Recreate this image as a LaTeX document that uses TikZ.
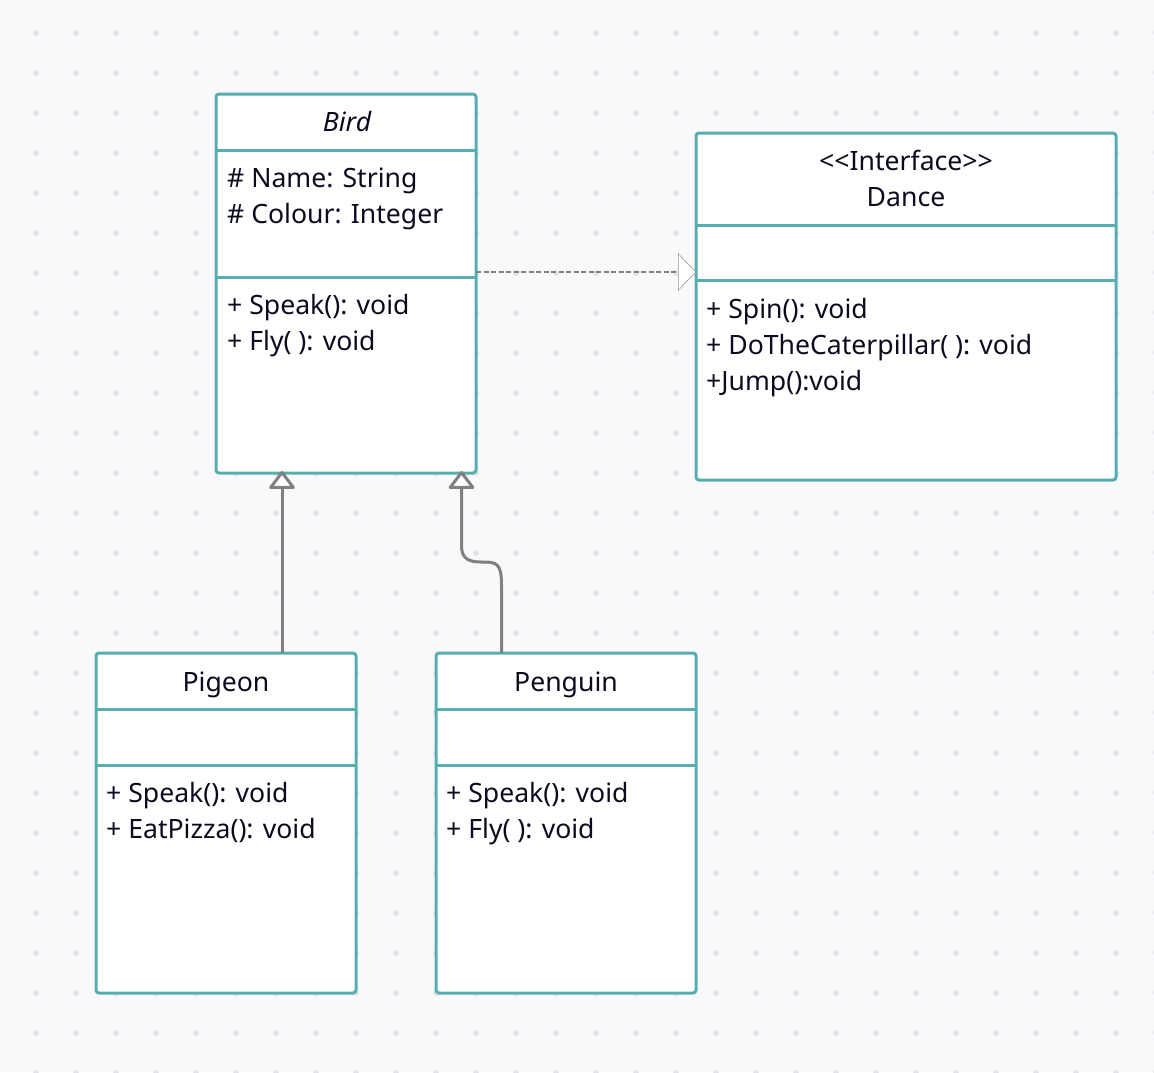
\documentclass[tikz,border=0pt]{standalone}
\usepackage{fontspec}
\setmainfont{Noto Sans}
\usetikzlibrary{arrows.meta,calc}
\definecolor{teal1}{HTML}{56AEAE}
\definecolor{bgc}{HTML}{F9F9FB}
\definecolor{dotc}{HTML}{E4E4E8}
\definecolor{txt}{HTML}{0B0B20}
\definecolor{conn}{HTML}{808080}
\tikzset{
  classbox/.style={draw=teal1, line width=3pt, rounded corners=3pt, fill=white, inner sep=0pt, outer sep=0pt, anchor=north west},
  divider/.style={draw=teal1, line width=3pt},
  lbl/.style={font=\fontsize{26.6}{30}\selectfont, text=txt, inner sep=0pt, anchor=base west},
  ttl/.style={font=\fontsize{26.6}{30}\selectfont, text=txt, inner sep=0pt, anchor=base},
  inherit/.style={draw=conn, line width=3pt, -{Triangle[fill=white, length=19pt, width=28pt, line join=round]}},
  realize/.style={draw=conn, line width=1.2pt, dash pattern=on 5pt off 2.5pt, -{Triangle[fill=white, length=18pt, width=38pt, line width=0.6pt, color=conn!80]}}
}
\begin{document}
\begin{tikzpicture}[x=1pt,y=-1pt]
\useasboundingbox (0,0) rectangle (1154,1072);
\fill[bgc] (0,0) rectangle (1154,1072);
\foreach \i in {0,...,28} {\foreach \j in {0,...,26} {\fill[dotc] (36+40*\i,33+40*\j) circle (3pt);}}
% boxes
\node[classbox, minimum width=260pt, minimum height=379pt] (bird) at (216,94) {};
\node[classbox, minimum width=420pt, minimum height=347pt] (dance) at (696,133) {};
\node[classbox, minimum width=260pt, minimum height=340pt] (pigeon) at (96,653) {};
\node[classbox, minimum width=260pt, minimum height=340pt] (penguin) at (436,653) {};
% dividers
\draw[divider] (bird.north west |- 0,150) -- (bird.north east |- 0,150);
\draw[divider] (bird.north west |- 0,277) -- (bird.north east |- 0,277);
\draw[divider] (dance.north west |- 0,225) -- (dance.north east |- 0,225);
\draw[divider] (dance.north west |- 0,280) -- (dance.north east |- 0,280);
\draw[divider] (pigeon.north west |- 0,709) -- (pigeon.north east |- 0,709);
\draw[divider] (pigeon.north west |- 0,765) -- (pigeon.north east |- 0,765);
\draw[divider] (penguin.north west |- 0,709) -- (penguin.north east |- 0,709);
\draw[divider] (penguin.north west |- 0,765) -- (penguin.north east |- 0,765);
% texts
\node[ttl] (birdt) at (347,131) {\itshape Bird};
\node[lbl] (b1) at (227,187) {\# Name: String};
\node[lbl] (b2) at (227,223) {\# Colour: Integer};
\node[lbl] (b3) at (227,314.5) {+ Speak(): void};
\node[lbl] (b4) at (227,350.5) {+ Fly( ): void};
\node[ttl] (dt1) at (906,170.5) {<\kern0pt<Interface>\kern0pt>};
\node[ttl] (dt2) at (906,206.5) {Dance};
\node[lbl] (d1) at (706,318.5) {+ Spin(): void};
\node[lbl] (d2) at (706,354.5) {+ DoTheCaterpillar( ): void};
\node[lbl] (d3) at (706,390.5) {+Jump():void};
\node[ttl] (pgt) at (226,691) {Pigeon};
\node[lbl] (p1) at (106,802.5) {+ Speak(): void};
\node[lbl] (p2) at (106,838.5) {+ EatPizza(): void};
\node[ttl] (pnt) at (566,691) {Penguin};
\node[lbl] (q1) at (446,802.5) {+ Speak(): void};
\node[lbl] (q2) at (446,838.5) {+ Fly( ): void};
% connectors
\coordinate (pgtop) at ($(pigeon.north west)+(186,0)$);
\coordinate (birdbotA) at ($(pgtop |- bird.south)+(0,-2)$);
\draw[inherit] (pgtop) -- (birdbotA);
\coordinate (pntop) at ($(penguin.north west)+(65.5,0)$);
\coordinate (birdbotB) at ($(bird.south west)+(245.5,-2)$);
\draw[inherit] (pntop) -- ++(0,-68) .. controls (501.5,562) and (496,562) .. (481,562) .. controls (468,562) and (461.5,558) .. (461.5,546) -- (birdbotB);
\coordinate (bdr) at (bird.east |- 0,272);
\coordinate (dnl) at (dance.west |- 0,272);
\draw[realize] (bdr) -- (dnl);
\end{tikzpicture}
\end{document}
